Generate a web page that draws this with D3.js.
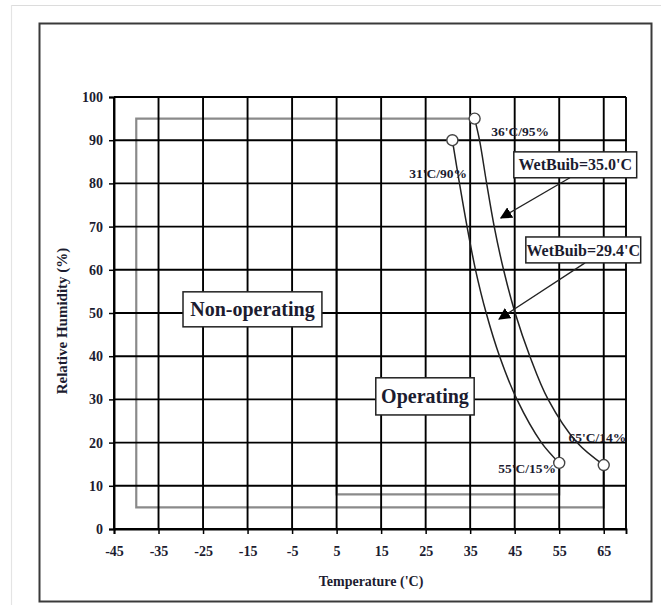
<!DOCTYPE html>
<html><head><meta charset="utf-8">
<script src="https://cdn.jsdelivr.net/npm/d3@7"></script>
<style>
html,body{margin:0;padding:0;background:#fff;}
svg{display:block;font-family:"Liberation Serif","Times New Roman",serif;}
</style></head>
<body><svg id="c" width="661" height="605"></svg>
<script>
// ---- data ----
const xTicks = [-45,-35,-25,-15,-5,5,15,25,35,45,55,65];
const yTicks = [0,10,20,30,40,50,60,70,80,90,100];
// wet-bulb 35.0 curve (temperature, RH)
const wb35T  = [36, 37.1, 38.7, 40.4, 42.5, 45.1, 48.4, 52.5, 59.0, 65];
const wb35RH = [95, 90,   80,   70,   60,   50,   40,   30,   20,   14.8];
// wet-bulb 29.4 curve
const wb29T  = [31, 32.6, 34.3, 36.2, 38.6, 41.6, 45.5, 51.0, 55];
const wb29RH = [90, 80,   70,   60,   50,   40,   30,   20,   15.3];
// endpoint markers and their labels
const ptT     = [36, 31, 65, 55];
const ptRH    = [95, 90, 14.8, 15.3];
const ptLabel = ["36'C/95%", "31'C/90%", "65'C/14%", "55'C/15%"];
const ptLabT  = [46.2, 27.8, 63.6, 47.8];
const ptLabRH = [92.1, 82.4, 21.3, 14.1];
// envelopes
const nonOpT  = [36, -40, -40, 65, 65];
const nonOpRH = [95, 95, 5, 5, 14.8];
const opT     = [5, 5, 55, 55];
const opRH    = [90, 8, 8, 15.3];
// boxed labels: text, left T, right T, top RH, bottom RH, font size
const boxText = ["Non-operating", "Operating", "WetBuib=35.0'C", "WetBuib=29.4'C"];
const boxT0   = [-29.5, 13.8, 44.8, 47.5];
const boxT1   = [1.7, 35.9, 72.4, 73.3];
const boxRH0  = [54.9, 35.0, 87.3, 67.6];
const boxRH1  = [46.8, 26.4, 81.3, 61.6];
const boxFont = [20, 20, 16, 16];
// arrows: from (T,RH) to (T,RH)
const arrFromT  = [57.4, 60.8];
const arrFromRH = [81.3, 61.6];
const arrToT    = [41.9, 41.5];
const arrToRH   = [72.0, 48.6];

// ---- layout ----
const svg = d3.select("#c");
const W = 661, H = 605;
const x = d3.scaleLinear().domain([-45, 70]).range([114, 626]);
const y = d3.scaleLinear().domain([0, 100]).range([529, 97]);
const textCol = "#1c1c30";

svg.append("rect").attr("width", W).attr("height", H).attr("fill", "#fff");
// faint outer page lines
svg.append("line").attr("x1", 11).attr("x2", W).attr("y1", 5.5).attr("y2", 5.5).attr("stroke", "#dcdcdc").attr("stroke-width", 1.2);
svg.append("line").attr("x1", 11.5).attr("x2", 11.5).attr("y1", 5).attr("y2", H).attr("stroke", "#e4e4e4").attr("stroke-width", 1.2);
// frame
svg.append("rect").attr("x", 39.5).attr("y", 23.5).attr("width", 612).attr("height", 578)
  .attr("fill", "none").attr("stroke", "#3a3a3a").attr("stroke-width", 2);

// envelopes (gray) under grid
const line = d3.line().x(d => x(d[0])).y(d => y(d[1]));
svg.append("path").attr("d", line(d3.zip(nonOpT, nonOpRH))).attr("fill", "none")
  .attr("stroke", "#8a8a8a").attr("stroke-width", 2.2);
svg.append("path").attr("d", line(d3.zip(opT, opRH))).attr("fill", "none")
  .attr("stroke", "#8a8a8a").attr("stroke-width", 2.2);

// grid
const g = svg.append("g");
g.selectAll("line.v").data(xTicks.concat([70])).join("line")
  .attr("x1", d => x(d)).attr("x2", d => x(d)).attr("y1", y(0)).attr("y2", y(100))
  .attr("stroke", "#000").attr("stroke-width", 1.9);
g.selectAll("line.h").data(yTicks).join("line")
  .attr("x1", x(-45)).attr("x2", x(70)).attr("y1", d => y(d)).attr("y2", d => y(d))
  .attr("stroke", "#000").attr("stroke-width", 1.9);

// axes
const xa = svg.append("g").attr("transform", `translate(0,${y(0)})`)
  .call(d3.axisBottom(x).tickValues(xTicks).tickSize(5).tickPadding(12).tickFormat(d => String(d)));
const ya = svg.append("g").attr("transform", `translate(${x(-45)},0)`)
  .call(d3.axisLeft(y).tickValues(yTicks).tickSize(5).tickPadding(6).tickFormat(d => String(d)));
[xa, ya].forEach(a => {
  a.select(".domain").attr("stroke", "#000").attr("stroke-width", 1.9);
  a.selectAll(".tick line").attr("stroke", "#000").attr("stroke-width", 1.5);
  a.selectAll("text").attr("font-family", "Liberation Serif, serif").attr("font-weight", "bold")
    .attr("font-size", 14).attr("fill", textCol);
});

// axis titles
svg.append("text").attr("x", (x(-45) + x(70)) / 2 + 1).attr("y", 586).attr("text-anchor", "middle")
  .attr("font-weight", "bold").attr("font-size", 14).attr("fill", textCol).text("Temperature ('C)");
svg.append("text").attr("transform", `translate(67,321) rotate(-90)`)
  .attr("text-anchor", "middle").attr("font-weight", "bold").attr("font-size", 15).attr("fill", textCol)
  .text("Relative Humidity (%)");

// curves
const cl = d3.line().x(d => x(d[0])).y(d => y(d[1])).curve(d3.curveCatmullRom.alpha(0.5));
[[wb35T, wb35RH], [wb29T, wb29RH]].forEach(([t, r]) => {
  svg.append("path").attr("d", cl(d3.zip(t, r))).attr("fill", "none")
    .attr("stroke", "#222").attr("stroke-width", 1.5);
});

// arrows
const defs = svg.append("defs");
defs.append("marker").attr("id", "ah").attr("viewBox", "0 0 10 10").attr("refX", 9).attr("refY", 5)
  .attr("markerWidth", 12).attr("markerHeight", 12).attr("markerUnits", "userSpaceOnUse").attr("orient", "auto")
  .append("path").attr("d", "M0,0 L10,5 L0,10 Z").attr("fill", "#000");
arrFromT.forEach((t, i) => {
  svg.append("line").attr("x1", x(t)).attr("y1", y(arrFromRH[i]))
    .attr("x2", x(arrToT[i])).attr("y2", y(arrToRH[i]))
    .attr("stroke", "#222").attr("stroke-width", 1.3).attr("marker-end", "url(#ah)");
});

// endpoint circles
ptT.forEach((t, i) => {
  svg.append("circle").attr("cx", x(t)).attr("cy", y(ptRH[i])).attr("r", 5.5)
    .attr("fill", "#fff").attr("stroke", "#444").attr("stroke-width", 1.4);
});
// endpoint labels
ptLabel.forEach((s, i) => {
  svg.append("text").attr("x", x(ptLabT[i])).attr("y", y(ptLabRH[i])).attr("dy", "0.35em")
    .attr("text-anchor", "middle").attr("font-weight", "bold").attr("font-size", 13.5)
    .attr("fill", textCol).text(s);
});

// boxed labels
boxText.forEach((s, i) => {
  const x0 = x(boxT0[i]), x1 = x(boxT1[i]), y0 = y(boxRH0[i]), y1 = y(boxRH1[i]);
  svg.append("rect").attr("x", x0).attr("y", y0).attr("width", x1 - x0).attr("height", y1 - y0)
    .attr("fill", "#fff").attr("stroke", "#222").attr("stroke-width", 1.5);
  svg.append("text").attr("x", (x0 + x1) / 2).attr("y", (y0 + y1) / 2).attr("dy", "0.35em")
    .attr("text-anchor", "middle").attr("font-weight", "bold").attr("font-size", boxFont[i])
    .attr("fill", textCol).text(s);
});
</script></body></html>
